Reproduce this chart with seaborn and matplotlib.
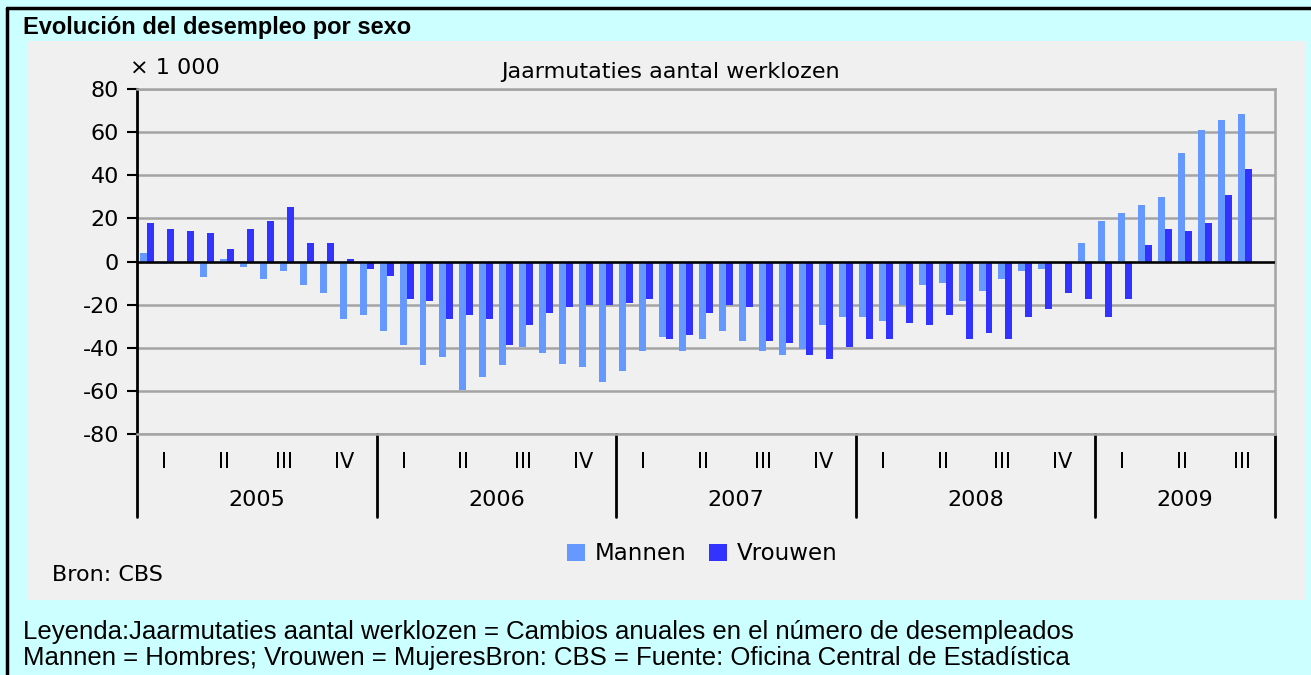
import pandas as pd
import seaborn as sns
import matplotlib.pyplot as plt
import matplotlib.transforms as mtransforms
from matplotlib.patches import Rectangle
from matplotlib.lines import Line2D

# maandelijkse jaarmutaties, x 1 000 (jan 2005 - aug 2009)
mannen = [4.0, -1.2, 0.0, -7.1, 1.2, -2.5, -8.1, -4.3, -10.9, -14.6, -26.7, -24.8,
          -32.2, -38.9, -48.1, -44.3, -59.4, -53.6, -48.1, -39.8, -42.5, -47.4, -49.0, -55.7,
          -50.9, -41.6, -35.0, -41.6, -36.0, -32.2, -36.9, -41.6, -43.4, -40.6, -29.5, -25.7,
          -25.7, -27.6, -20.3, -10.9, -9.9, -18.3, -13.6, -8.1, -4.3, -3.4, 0.0, 8.7,
          18.9, 22.6, 26.4, 30.1, 50.5, 60.8, 65.4, 68.2]
vrouwen = [18.0, 15.2, 14.3, 13.3, 5.9, 15.2, 18.9, 25.4, 8.7, 8.7, 1.2, -3.4,
           -6.8, -17.4, -18.1, -26.7, -24.8, -26.7, -38.9, -29.6, -23.9, -21.1, -20.3, -20.3,
           -19.2, -17.4, -36.0, -34.1, -23.9, -20.3, -21.1, -37.1, -37.8, -43.4, -45.3, -39.7,
           -36.0, -36.0, -28.5, -29.5, -24.8, -36.0, -33.2, -36.0, -25.7, -22.0, -14.6, -17.4,
           -25.7, -17.4, 7.8, 15.2, 14.3, 18.0, 31.0, 43.1]
jaren = ['2005', '2006', '2007', '2008', '2009']
kwartalen = ['I', 'II', 'III', 'IV']
meses = [j + '-' + str(m).zfill(2) for j in jaren for m in range(1, 13)][:57]

n = len(mannen)
df = pd.DataFrame({
    'mes': meses[:n] * 2,
    'sexo': ['Mannen'] * n + ['Vrouwen'] * n,
    'valor': mannen + vrouwen,
})

sns.set_style('white')
plt.rcParams['font.family'] = ['DejaVu Sans']
plt.rcParams['text.color'] = 'black'
plt.rcParams['ytick.color'] = 'black'
plt.rcParams['ytick.labelcolor'] = 'black'
plt.rcParams['axes.unicode_minus'] = False

W, H = 1311, 675
fig = plt.figure(figsize=(W / 100, H / 100), dpi=100, facecolor='#CCFFFF')
fig.patches.append(Rectangle((27 / W, 1 - 600 / H), (1305 - 27) / W, (600 - 41) / H,
                             transform=fig.transFigure, facecolor='#F0F0F0',
                             edgecolor='none', zorder=-5))
fig.add_artist(Line2D([7 / W, 7 / W], [0, 1 - 8 / H], color='black', lw=2.5,
                      transform=fig.transFigure))
fig.add_artist(Line2D([7 / W, 1], [1 - 8 / H, 1 - 8 / H], color='black', lw=2.5,
                      transform=fig.transFigure))

ax = fig.add_axes([137 / W, 1 - 434 / H, (1275 - 137) / W, (434 - 89) / H])
ax.set_facecolor('#F0F0F0')
sns.barplot(data=df, x='mes', y='valor', hue='sexo', order=meses,
            hue_order=['Mannen', 'Vrouwen'], palette=['#6699FF', '#3333FF'],
            width=0.7, saturation=1, errorbar=None, linewidth=0, ax=ax)

ax.set_ylim(-80, 80)
ax.set_xlim(-0.5, 56.5)
ax.set_yticks(range(-80, 81, 20))
ax.set_xticks([])
ax.set_xlabel('')
ax.set_ylabel('')
ax.yaxis.grid(True, color='#A4A4A4', lw=1.8)
ax.set_axisbelow(True)
ax.axhline(0, color='black', lw=1.8, zorder=3)
for s in ['top', 'right', 'bottom']:
    ax.spines[s].set_color('#A4A4A4')
    ax.spines[s].set_linewidth(1.8)
ax.spines['left'].set_color('black')
ax.spines['left'].set_linewidth(2)
ax.tick_params(axis='y', direction='out', length=7, width=1.5, color='black',
               labelsize=16, pad=6, left=True)

trans = mtransforms.blended_transform_factory(ax.transData, ax.transAxes)
for xb in [-0.5, 11.5, 23.5, 35.5, 47.5, 56.5]:
    ax.plot([xb, xb], [0, -0.24], transform=trans, color='black', lw=2, clip_on=False)
for yi, jaar in enumerate(jaren):
    for q, k in enumerate(kwartalen):
        if 12 * yi + 3 * q < len(meses):
            ax.text(12 * yi + 3 * q + 0.85, -0.081, k, transform=trans,
                    ha='center', va='center', fontsize=15)
    x_end = min(12 * yi + 11.5, len(meses) - 0.5)
    ax.text((12 * yi - 0.5 + x_end) / 2, -0.191, jaar, transform=trans,
            ha='center', va='center', fontsize=16)

sns.move_legend(ax, 'center', bbox_to_anchor=(702 / W, 1 - 554 / H),
                bbox_transform=fig.transFigure, ncol=2, frameon=False, title=None,
                fontsize=16.5, handlelength=0.8, handleheight=0.8,
                handletextpad=0.4, columnspacing=1.0)

fig.text(670 / W, 1 - 72 / H, 'Jaarmutaties aantal werklozen', ha='center',
         va='center', fontsize=16)
fig.text(130 / W, 1 - 68 / H, '× 1 000', ha='left', va='center', fontsize=16)
fig.text(52 / W, 1 - 575 / H, 'Bron: CBS', ha='left', va='center', fontsize=16)

fig.text(23 / W, 1 - 34 / H, 'Evolución del desempleo por sexo', ha='left',
         va='baseline', fontsize=17, fontweight='bold', family=['Liberation Sans'])
fig.text(23 / W, 1 - 639 / H,
         'Leyenda:Jaarmutaties aantal werklozen = Cambios anuales en el número de desempleados',
         ha='left', va='baseline', fontsize=18.5, family=['Liberation Sans'])
fig.text(23 / W, 1 - 665 / H,
         'Mannen = Hombres; Vrouwen = MujeresBron: CBS = Fuente: Oficina Central de Estadística',
         ha='left', va='baseline', fontsize=18.5, family=['Liberation Sans'])

fig.savefig('out.png', dpi=100, facecolor=fig.get_facecolor())
